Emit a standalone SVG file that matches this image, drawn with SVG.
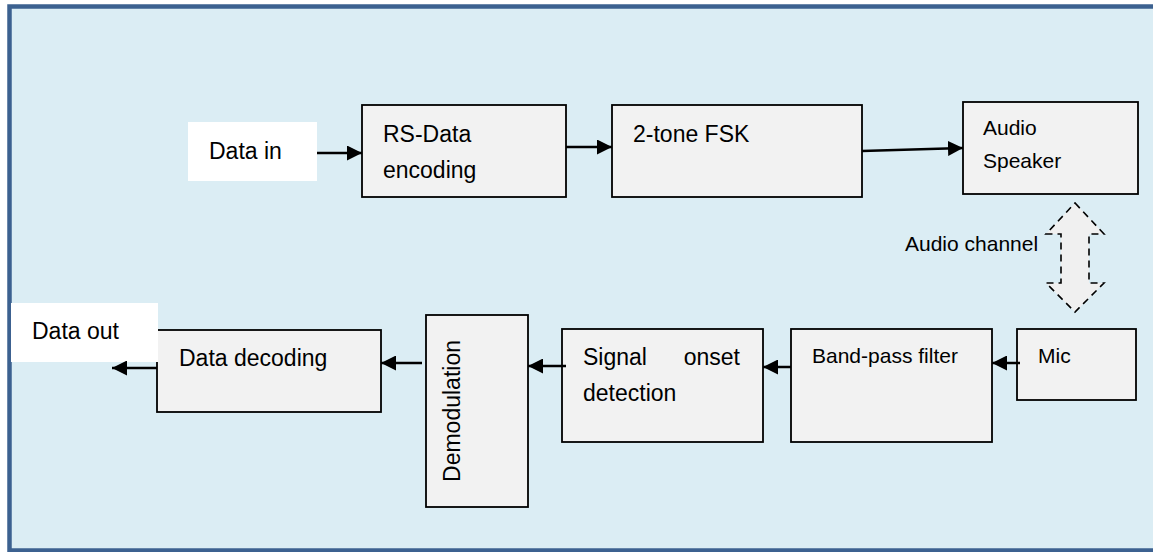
<svg xmlns="http://www.w3.org/2000/svg" width="1153" height="552" viewBox="0 0 1153 552">
<defs>
<marker id="ah" viewBox="0 0 10 10" refX="10" refY="5" markerWidth="6" markerHeight="6" orient="auto" markerUnits="strokeWidth">
<path d="M0,0 L10,5 L0,10 z" fill="#000"/>
</marker>
<style>
.box{fill:#f2f2f2;stroke:#000;stroke-width:1.8}
.term{fill:#fff;stroke:none}
.t{font-family:"Liberation Sans",Arial,sans-serif;font-size:23px;fill:#000}
.s{font-family:"Liberation Sans",Arial,sans-serif;font-size:21px;fill:#000}
.c{fill:none;stroke:#000;stroke-width:2.5;marker-end:url(#ah)}
.dash{fill:#f0f0f0;stroke:#000;stroke-width:1.6;stroke-dasharray:7 5}
</style>
</defs>
<rect x="9.5" y="6.5" width="1160" height="544" fill="#dbedf4" stroke="#3c6190" stroke-width="4.5"/>

<g id="data-in">
<rect class="term" x="188" y="122" width="129" height="59"/>
<text class="t" x="209" y="159">Data in</text>
</g>
<g id="rs-encoding">
<rect class="box" x="362" y="105" width="204" height="92"/>
<text class="t" x="383" y="142">RS-Data</text>
<text class="t" x="383" y="178">encoding</text>
</g>
<g id="fsk">
<rect class="box" x="612" y="105" width="250" height="92"/>
<text class="t" x="633" y="142">2-tone FSK</text>
</g>
<g id="speaker">
<rect class="box" x="963" y="102" width="175" height="92"/>
<text class="s" x="983" y="135">Audio</text>
<text class="s" x="983" y="168">Speaker</text>
</g>
<g id="audio-channel">
<path class="dash" d="M1075,203 L1104,234 L1089,234 L1089,283 L1104,283 L1075,312 L1046,283 L1061,283 L1061,234 L1046,234 Z"/>
<text class="s" x="905" y="251">Audio channel</text>
</g>
<g id="mic">
<rect class="box" x="1017" y="329" width="119" height="71"/>
<text class="s" x="1038" y="363">Mic</text>
</g>
<g id="band-pass">
<rect class="box" x="791" y="329" width="201" height="113"/>
<text class="s" x="812" y="363">Band-pass filter</text>
</g>
<g id="onset">
<rect class="box" x="562" y="329" width="201" height="113"/>
<text class="t" x="583" y="365">Signal</text>
<text class="t" x="740" y="365" text-anchor="end">onset</text>
<text class="t" x="583" y="401">detection</text>
</g>
<g id="demodulation">
<rect class="box" x="426" y="315" width="102" height="192"/>
<text class="t" x="0" y="0" text-anchor="middle" transform="translate(460,411) rotate(-90)">Demodulation</text>
</g>
<g id="decoding">
<rect class="box" x="157" y="330" width="224" height="82"/>
<text class="t" x="179" y="366">Data decoding</text>
</g>
<g id="data-out">
<rect class="term" x="11" y="303" width="147" height="59"/>
<text class="t" x="32" y="339">Data out</text>
</g>

<g id="connectors">
<line class="c" x1="317" y1="153" x2="362" y2="153"/>
<line class="c" x1="566" y1="147" x2="612" y2="147"/>
<line class="c" x1="862" y1="151" x2="963" y2="148"/>
<line class="c" x1="1020" y1="363" x2="992" y2="363"/>
<line class="c" x1="791" y1="367" x2="763" y2="367"/>
<line class="c" x1="566" y1="366" x2="528" y2="366"/>
<line class="c" x1="422" y1="363" x2="381" y2="363"/>
<line class="c" x1="157" y1="368" x2="112" y2="368"/>
</g>
</svg>
